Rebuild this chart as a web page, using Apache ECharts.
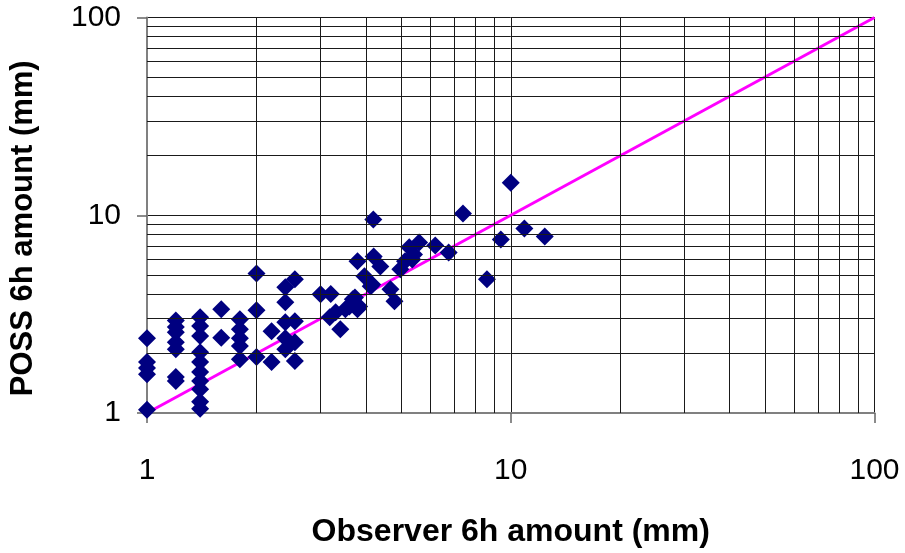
<!DOCTYPE html>
<html>
<head>
<meta charset="utf-8">
<script src="https://cdn.jsdelivr.net/npm/echarts@6/dist/echarts.min.js"></script>
<style>
  html, body { margin: 0; padding: 0; background: #fff; }
  #chart { width: 905px; height: 553px; }
</style>
</head>
<body>
<div id="chart"></div>
<script>
// Observer 6h amount (mm)
const observer = [
  1, 1, 1, 1, 1,
  1.2, 1.2, 1.2, 1.2, 1.2, 1.2, 1.2,
  1.4, 1.4, 1.4, 1.4, 1.4, 1.4, 1.4, 1.4, 1.4, 1.4,
  1.6, 1.6,
  1.8, 1.8, 1.8, 1.8, 1.8,
  2.0, 2.0, 2.0,
  2.2, 2.2,
  2.4, 2.4, 2.4, 2.4, 2.4,
  2.55, 2.55, 2.55, 2.55,
  3.0, 3.2, 3.18, 3.3, 3.4, 3.51, 3.6, 3.68, 3.73, 3.79, 3.83,
  3.79, 3.96, 4.12, 4.16, 4.19, 4.2, 4.38, 4.67, 4.79,
  4.97, 5.12, 5.26, 5.36, 5.42, 5.6, 6.2, 6.75, 7.39,
  8.6, 9.39, 10.0, 10.9, 12.4
];
// POSS 6h amount (mm)
const poss = [
  1.04, 2.39, 1.81, 1.69, 1.57,
  2.94, 2.72, 2.56, 2.28, 2.10, 1.52, 1.45,
  3.05, 2.75, 2.45, 2.03, 1.81, 1.61, 1.45, 1.32, 1.14, 1.05,
  3.35, 2.40,
  2.98, 2.65, 2.39, 2.18, 1.87,
  5.08, 3.31, 1.92,
  2.59, 1.81,
  4.32, 3.63, 2.88, 2.39, 2.10,
  4.74, 2.91, 2.28, 1.83,
  3.98, 4.0, 3.05, 3.23, 2.65, 3.35, 3.46, 3.76, 3.84, 3.35, 3.46,
  5.85, 4.91, 4.37, 4.47, 9.52, 6.19, 5.51, 4.22, 3.67,
  5.33, 5.85, 6.88, 5.98, 6.34, 7.29, 7.04, 6.49, 10.2,
  4.74, 7.55, 14.6, 8.58, 7.81
];
// 1:1 reference line
const refLineX = [1, 100];
const refLineY = [1, 100];
// minor gridline values (between the decade ticks)
const minorGrid = [2, 3, 4, 5, 6, 7, 8, 9, 20, 30, 40, 50, 60, 70, 80, 90];
const tickLabels = ['1', '10', '100'];

const points = observer.map((x, i) => [x, poss[i]]);
const linePts = refLineX.map((x, i) => [x, refLineY[i]]);

const FONT = "'Liberation Sans', Arial, sans-serif";
const gridColor = '#1a1a1a';

const chart = echarts.init(document.getElementById('chart'), null, { renderer: 'canvas' });
chart.setOption({
  animation: false,
  backgroundColor: '#fff',
  grid: { left: 143.5, right: 30.5, top: 17.5, bottom: 139, containLabel: false },
  xAxis: {
    type: 'log', logBase: 10, min: 1, max: 100,
    name: 'Observer 6h amount (mm)', nameLocation: 'middle', nameGap: 103,
    nameTextStyle: { fontFamily: FONT, fontWeight: 'bold', fontSize: 32, color: '#000' },
    axisLine: { show: true, onZero: false, lineStyle: { color: '#808080', width: 2 } },
    axisTick: { show: true, length: 10, lineStyle: { color: '#666', width: 1.5 } },
    axisLabel: { fontFamily: FONT, fontSize: 30, color: '#000', margin: 43,
      formatter: v => tickLabels.includes(String(v)) ? String(v) : '' },
    splitLine: { show: true, lineStyle: { color: gridColor, width: 1 } },
    minorTick: { show: false }, minorSplitLine: { show: false }
  },
  yAxis: {
    type: 'log', logBase: 10, min: 1, max: 100,
    name: 'POSS 6h amount (mm)', nameLocation: 'middle', nameGap: 108,
    nameTextStyle: { fontFamily: FONT, fontWeight: 'bold', fontSize: 31, color: '#000',
      padding: [0, 26, 0, 0] },
    axisLine: { show: true, onZero: false, lineStyle: { color: '#808080', width: 2 } },
    axisTick: { show: true, length: 10, lineStyle: { color: '#666', width: 1.5 } },
    axisLabel: { fontFamily: FONT, fontSize: 30, color: '#000', margin: 26,
      formatter: v => tickLabels.includes(String(v)) ? String(v) : '' },
    splitLine: { show: true, lineStyle: { color: gridColor, width: 1 } }
  },
  series: [
    {
      type: 'line', data: [], silent: true, z: 1,
      markLine: {
        silent: true, symbol: 'none', animation: false,
        label: { show: false },
        lineStyle: { color: gridColor, width: 1, type: 'solid' },
        data: minorGrid.map(v => ({ xAxis: v })).concat(minorGrid.map(v => ({ yAxis: v })))
      }
    },
    {
      type: 'line', data: linePts, symbol: 'none', silent: true, z: 3,
      lineStyle: { color: '#ff00ff', width: 3 }
    },
    {
      type: 'scatter', data: points, symbol: 'diamond', symbolSize: 18, z: 4,
      itemStyle: { color: '#000080', opacity: 1 }
    }
  ]
});
</script>
</body>
</html>
